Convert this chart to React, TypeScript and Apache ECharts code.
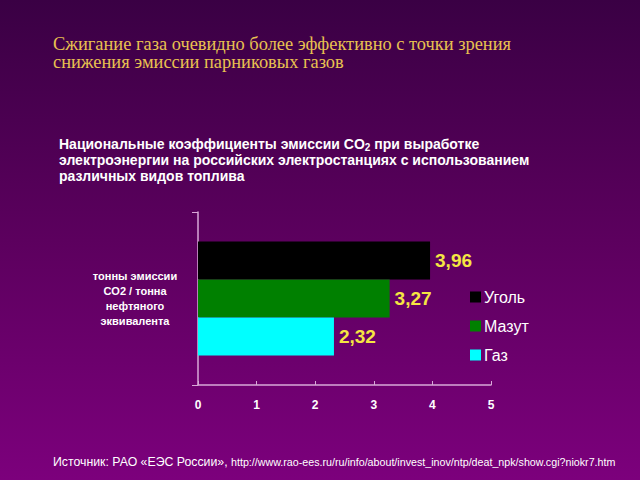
import React, { useEffect, useRef } from "react";
import * as echarts from "echarts";

const categories = ["тонны эмиссии\nCO2 / тонна\nнефтяного\nэквивалента"];
const seriesNames = ["Уголь", "Мазут", "Газ"];
const seriesValues = [[3.96], [3.27], [2.32]];
const seriesColors = ["#000000", "#008000", "#00ffff"];
const xTicks = [0, 1, 2, 3, 4, 5];

export default function App() {
  const ref = useRef<HTMLDivElement>(null);
  useEffect(() => {
    const chart = echarts.init(ref.current!, null, { renderer: "svg" });
    const axisColor = "#d8a8d8";
    chart.setOption({
      animation: false,
      backgroundColor: {
        type: "linear",
        x: 0,
        y: 0,
        x2: 0,
        y2: 1,
        colorStops: [
          { offset: 0, color: "#3a0044" },
          { offset: 0.5, color: "#5c005e" },
          { offset: 1, color: "#7c007c" },
        ],
      },
      grid: { left: 198, right: 149, top: 212, bottom: 95, containLabel: false },
      xAxis: {
        type: "value",
        min: xTicks[0],
        max: xTicks[xTicks.length - 1],
        interval: 1,
        splitLine: { show: false },
        axisLine: { show: true, lineStyle: { color: axisColor, width: 1.5 } },
        axisTick: { show: true, inside: true, length: 4, lineStyle: { color: axisColor } },
        axisLabel: {
          color: "#ffffff",
          fontFamily: "Liberation Sans, Arial, sans-serif",
          fontWeight: "bold",
          fontSize: 12,
          margin: 14,
        },
      },
      yAxis: {
        type: "category",
        data: categories,
        axisLine: { show: true, lineStyle: { color: axisColor, width: 1.5 } },
        axisTick: { show: true, length: 6, lineStyle: { color: axisColor } },
        axisLabel: {
          color: "#ffffff",
          fontFamily: "Liberation Sans, Arial, sans-serif",
          fontWeight: "bold",
          fontSize: 11,
          lineHeight: 15,
          align: "center",
          margin: 63,
        },
      },
      legend: {
        orient: "vertical",
        left: 465,
        top: 284,
        itemWidth: 11,
        itemHeight: 11,
        itemGap: 13,
        icon: "rect",
        data: seriesNames,
        textStyle: {
          color: "#ffffff",
          fontFamily: "Liberation Sans, Arial, sans-serif",
          fontSize: 16,
          padding: [0, 0, 0, -2],
        },
      },
      series: seriesNames.map((name, i) => ({
        type: "bar",
        name,
        data: seriesValues[i],
        barWidth: 38,
        barGap: "0%",
        itemStyle: { color: seriesColors[i] },
        label: {
          show: true,
          position: "right",
          distance: 5,
          color: "#f5e642",
          fontFamily: "Liberation Sans, Arial, sans-serif",
          fontWeight: "bold",
          fontSize: 19,
          formatter: (p: any) => String(p.value).replace(".", ","),
        },
      })),
      graphic: [
        {
          type: "text",
          left: 53,
          top: 35,
          style: {
            text: "Сжигание газа очевидно более эффективно с точки зрения\nснижения эмиссии парниковых газов",
            fill: "#e8c050",
            font: "18.4px 'Liberation Serif', 'Times New Roman', serif",
            lineHeight: 18,
          },
        },
        {
          type: "text",
          left: 59,
          top: 135,
          style: {
            text:
              "Национальные коэффициенты эмиссии CO{sub|2} при выработке\nэлектроэнергии на российских электростанциях с использованием\nразличных видов топлива",
            fill: "#ffffff",
            font: "bold 14px 'Liberation Sans', Arial, sans-serif",
            lineHeight: 16,
            rich: {
              sub: {
                fill: "#ffffff",
                font: "bold 10px 'Liberation Sans', Arial, sans-serif",
                verticalAlign: "bottom",
                padding: [7, 0, 0, 0],
                lineHeight: 16,
              },
            },
          },
        },
        {
          type: "text",
          left: 53,
          top: 456,
          style: {
            text: "Источник: РАО «ЕЭС России», {url|http://www.rao-ees.ru/ru/info/about/invest_inov/ntp/deat_npk/show.cgi?niokr7.htm}",
            fill: "#ffffff",
            font: "12.3px 'Liberation Sans', Arial, sans-serif",
            rich: {
              url: {
                fill: "#ffffff",
                font: "10.7px 'Liberation Sans', Arial, sans-serif",
              },
            },
          },
        },
      ],
    });
    return () => chart.dispose();
  }, []);
  return (
    <div
      ref={ref}
      style={{ position: "fixed", left: 0, top: 0, width: 640, height: 480 }}
    />
  );
}
